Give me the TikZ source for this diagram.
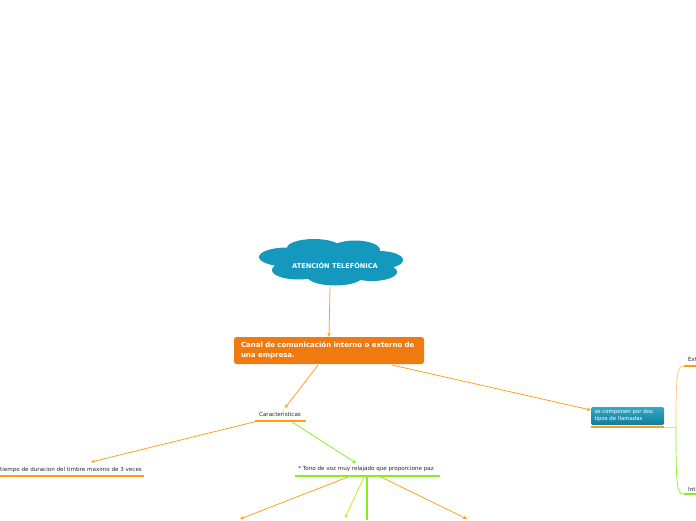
\documentclass[tikz,border=0pt]{standalone}
\usepackage{fontspec}
\setmainfont{DejaVu Sans}
\usetikzlibrary{arrows.meta}
\definecolor{cloudblue}{HTML}{1498BD}
\definecolor{boxorange}{HTML}{EE7A10}
\definecolor{lineorange}{HTML}{FF9D14}
\definecolor{limegreen}{HTML}{88EE22}
\definecolor{yellowgreen}{HTML}{C4EE10}
\definecolor{topblue}{HTML}{32A8C8}
\definecolor{botblue}{HTML}{137C9A}
\tikzset{
	arr/.style={-{Stealth[length=4pt,width=3.5pt]}, line width=0.75pt},
	topic/.style={font=\fontsize{5.6}{6}\selectfont, inner sep=0pt, text=black!85},
	uline/.style={line width=2.4pt}
}
\begin{document}
\begin{tikzpicture}[x=1pt, y=-1pt]
	\useasboundingbox[fill=white] (0,0) rectangle (696,520);
	% central cloud (several ellipses filled together)
	\fill[cloudblue] (287,257) ellipse (28 and 9.5) (314,248) ellipse (27 and 9)
		(355,250) ellipse (25 and 9.5) (379,260) ellipse (24 and 9) (372,272) ellipse (25 and 9)
		(335,276) ellipse (28 and 9.5) (298,270) ellipse (26 and 9.5) (331,262) ellipse (55 and 14);
	\node[text=white, font=\bfseries\fontsize{6.6}{7}\selectfont, inner sep=0pt] (root) at (335,265) {ATENCIÓN TELEFÓNICA};
	\coordinate (rootout) at (330,287);
	% orange main box
	\node[fill=boxorange, rounded corners=2.5pt, minimum width=190pt, minimum height=27pt,
		text width=176pt, align=left, text=white, inner sep=0pt,
		font=\bfseries\fontsize{7}{10}\selectfont] (canal) at (329,350.5)
		{Canal de comunicación interno o externo de\\una empresa.};
	\draw[arr, lineorange] (rootout) -- (canal.north);
	% Caracteristicas
	\node[topic] (carac) at (280,414) {Caracteristicas};
	\draw[uline, lineorange] (255,421) coordinate (caracl) -- (306,421) coordinate (caracr);
	\coordinate (caractop) at (285,408);
	\draw[arr, lineorange] (318,365) -- (caractop);
	% blue box on the right
	\node[shade, top color=topblue, bottom color=botblue, rounded corners=2pt,
		minimum width=73pt, minimum height=18pt, text width=66pt, align=left, inner sep=0pt,
		text=white, font=\fontsize{5.4}{7}\selectfont] (llamadas) at (627.5,416) {se componen por dos\\tipos de llamadas};
	\draw[uline, lineorange] (591,427) -- (664,427) coordinate (llamr);
	\draw[arr, lineorange] (392,365) -- (llamadas.west |- 0,410);
	\draw[line width=0.8pt, limegreen!60] (llamr) -- (676,427) coordinate (fork);
	% two branches
	\node[topic, anchor=base west] (ext) at (688,361) {Ext};
	\node[topic, anchor=base west] (int) at (688,491) {Int};
	\draw[uline, lineorange] (684,366) coordinate (extl) -- (696,366);
	\draw[uline, limegreen] (684,494) coordinate (intl) -- (696,494);
	\draw[lineorange!60, line width=0.7pt] (fork) .. controls (676,372) and (677,366) .. (extl);
	\draw[limegreen, line width=0.7pt] (fork) .. controls (676,488) and (677,494) .. (intl);
	% tiempo de duracion
	\node[topic, anchor=base west] (tiempo) at (0,471) {tiempo de duracion del timbre maximo de 3 veces};
	\draw[uline, lineorange] (0,476) -- (144,476);
	\draw[arr, lineorange] (caracl) ++(3,0) -- (91,462);
	% tono de voz
	\node[topic] (tono) at (366,469) {* Tono de voz muy relajado que proporcione paz};
	\draw[uline, limegreen] (295,476) -- (440,476);
	\draw[arr, limegreen] (292,422) -- (356,463);
	% children of tono de voz
	\draw[arr, lineorange] (348,477) -- (240,519);
	\draw[arr, yellowgreen] (364,477) -- (345,518);
	\draw[line width=2pt, limegreen] (367,476) -- (367,520);
	\draw[arr, lineorange] (381,477) -- (467,519);
\end{tikzpicture}
\end{document}
